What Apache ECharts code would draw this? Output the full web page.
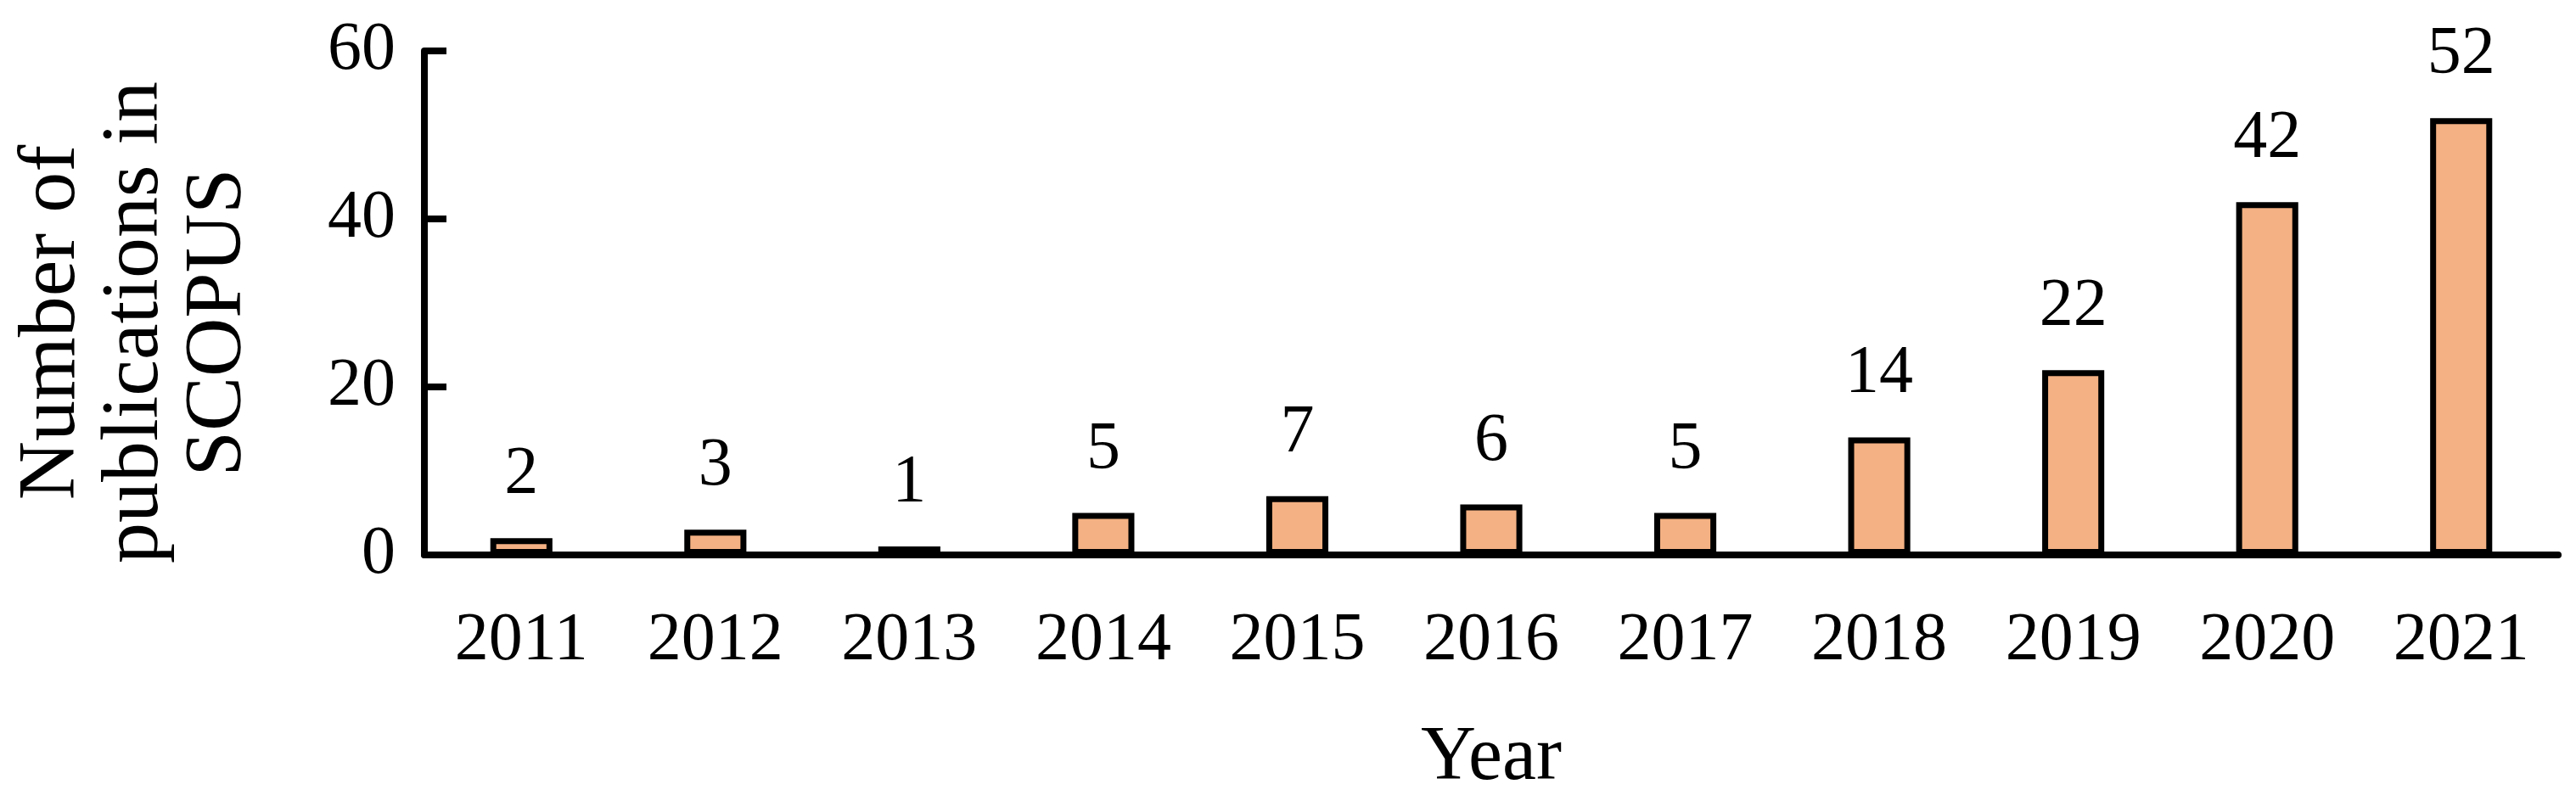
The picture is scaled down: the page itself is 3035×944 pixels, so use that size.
<!DOCTYPE html>
<html><head><meta charset="utf-8">
<script src="https://cdn.jsdelivr.net/npm/echarts@6/dist/echarts.min.js"></script>
<style>html,body{margin:0;padding:0;background:#fff}#c{width:3035px;height:944px}</style>
</head><body><div id="c"></div>
<script>
const years = ['2011','2012','2013','2014','2015','2016','2017','2018','2019','2020','2021'];
const counts = [2,3,1,5,7,6,5,14,22,42,52];
const yTitle = ['Number of','publications in','SCOPUS'];
const F = 'Liberation Serif, DejaVu Serif, serif';
const chart = echarts.init(document.getElementById('c'));
chart.setOption({
  backgroundColor:'#fff',
  animation:false,
  grid:{left:500,right:21,top:60,bottom:245},
  xAxis:{type:'category',data:years,
    name:'Year',nameLocation:'middle',nameGap:195,
    nameTextStyle:{fontFamily:F,fontSize:90,color:'#000'},
    axisLine:{lineStyle:{color:'#000',width:8}},
    axisTick:{inside:true,length:20,lineStyle:{color:'#000',width:8}},
    axisLabel:{fontFamily:F,fontSize:80,color:'#000',margin:62}},
  yAxis:{type:'value',min:0,max:60,interval:20,
    splitLine:{show:false},
    axisLine:{show:true,lineStyle:{color:'#000',width:8}},
    axisTick:{show:true,inside:true,length:26,lineStyle:{color:'#000',width:8}},
    axisLabel:{fontFamily:F,fontSize:80,color:'#000',margin:34}},
  graphic:[{type:'text',x:160,y:380,rotation:Math.PI/2,
    style:{text:yTitle.join('\n'),fontFamily:F,fontSize:96,lineHeight:98,fill:'#000',align:'center',verticalAlign:'middle'}}],
  series:[{type:'bar',data:counts,barWidth:'32%',
    itemStyle:{color:'#F4B183',borderColor:'#000',borderWidth:7},
    label:{show:true,position:'top',distance:34,fontFamily:F,fontSize:80,color:'#000'}}]
});
</script></body></html>
